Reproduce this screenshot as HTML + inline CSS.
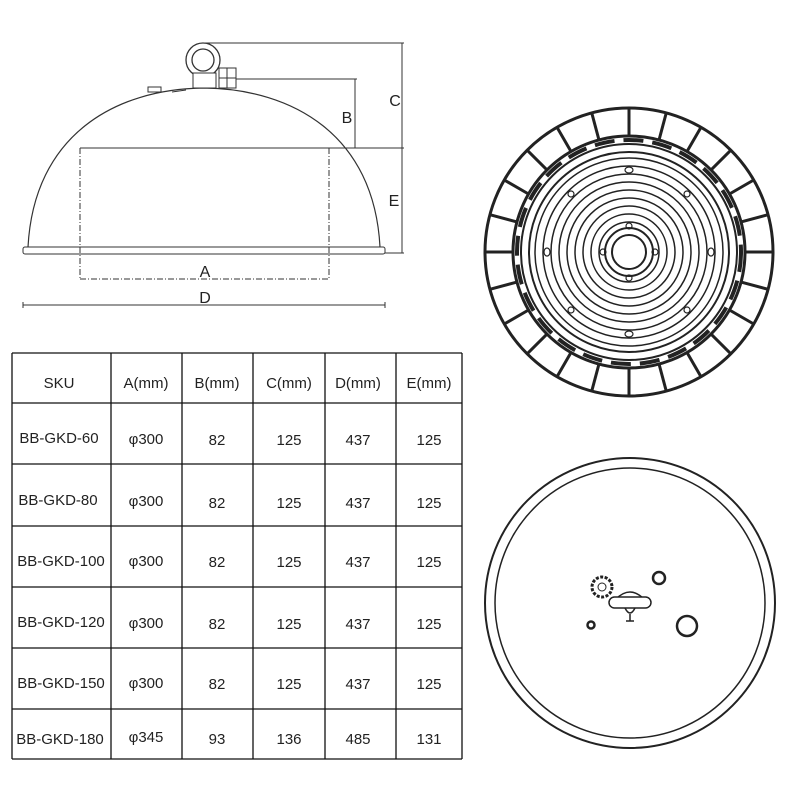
<!DOCTYPE html>
<html><head><meta charset="utf-8"><style>
body{margin:0;background:#fff;width:800px;height:800px;overflow:hidden;position:relative;font-family:"Liberation Sans",sans-serif}
svg{position:absolute;left:0;top:0}
</style></head><body>
<svg width="800" height="800" viewBox="0 0 800 800">
<g fill="none" stroke="#333" stroke-width="1">
 <path d="M28 247 C 34 135, 115 89, 204 88 C 293 89, 374 135, 380 247" stroke-width="1.2"/>
 <rect x="23" y="247" width="362" height="7" rx="2"/>
 <circle cx="203" cy="60" r="17" stroke-width="1.3"/>
 <circle cx="203" cy="60" r="11" stroke-width="1.3"/>
 <rect x="193" y="73" width="23" height="15" fill="#fff"/>
 <rect x="219" y="68" width="17" height="20" fill="#fff"/>
 <line x1="227" y1="68" x2="227" y2="88"/><line x1="219" y1="78" x2="236" y2="78"/>
 <rect x="148" y="87" width="13" height="5"/>
 <line x1="172" y1="92" x2="186" y2="90"/>
 <line x1="203" y1="43" x2="404" y2="43"/>
 <line x1="236" y1="79" x2="357" y2="79"/>
 <line x1="355" y1="79" x2="355" y2="148"/>
 <line x1="402" y1="43" x2="402" y2="253"/>
 <line x1="80" y1="148" x2="404" y2="148"/>
 <line x1="385" y1="253" x2="404" y2="253"/>
 <line x1="80" y1="148" x2="80" y2="280" stroke-dasharray="6 2 1 2"/>
 <line x1="329" y1="148" x2="329" y2="280" stroke-dasharray="6 2 1 2"/>
 <line x1="80" y1="279" x2="329" y2="279" stroke-dasharray="6 2 1 2"/>
 <line x1="23" y1="302" x2="23" y2="308"/>
 <line x1="385" y1="302" x2="385" y2="308"/>
 <line x1="23" y1="305" x2="385" y2="305"/>
</g>
<g font-size="16" fill="#222" font-family="Liberation Sans,sans-serif" text-anchor="middle">
 <text x="395" y="106">C</text><text x="347" y="123">B</text><text x="394" y="206">E</text>
 <text x="205" y="277">A</text><text x="205" y="303">D</text>
</g>
<g fill="none" stroke="#222">
 <circle cx="629" cy="252" r="144" stroke-width="3"/>
 <circle cx="629" cy="252" r="116" stroke-width="3"/>
 <circle cx="629" cy="252" r="108" stroke-width="2"/>
 <circle cx="629" cy="252" r="100" stroke-width="2"/>
 <circle cx="629" cy="252" r="94" stroke-width="1.5"/>
 <circle cx="629" cy="252" r="86" stroke-width="1.5"/>
 <circle cx="629" cy="252" r="78" stroke-width="1.5"/>
 <circle cx="629" cy="252" r="70" stroke-width="1.5"/>
 <circle cx="629" cy="252" r="62" stroke-width="1.5"/>
 <circle cx="629" cy="252" r="54" stroke-width="1.5"/>
 <circle cx="629" cy="252" r="46" stroke-width="1.5"/>
 <circle cx="629" cy="252" r="38" stroke-width="1.5"/>
 <circle cx="629" cy="252" r="30" stroke-width="1.5"/>
 <circle cx="629" cy="252" r="24" stroke-width="2"/>
 <circle cx="629" cy="252" r="17" stroke-width="2"/>
 <g stroke-width="3">
  <line x1="629" y1="108" x2="629" y2="136" transform="rotate(0 629 252)"/>
  <line x1="629" y1="108" x2="629" y2="136" transform="rotate(15 629 252)"/>
  <line x1="629" y1="108" x2="629" y2="136" transform="rotate(30 629 252)"/>
  <line x1="629" y1="108" x2="629" y2="136" transform="rotate(45 629 252)"/>
  <line x1="629" y1="108" x2="629" y2="136" transform="rotate(60 629 252)"/>
  <line x1="629" y1="108" x2="629" y2="136" transform="rotate(75 629 252)"/>
  <line x1="629" y1="108" x2="629" y2="136" transform="rotate(90 629 252)"/>
  <line x1="629" y1="108" x2="629" y2="136" transform="rotate(105 629 252)"/>
  <line x1="629" y1="108" x2="629" y2="136" transform="rotate(120 629 252)"/>
  <line x1="629" y1="108" x2="629" y2="136" transform="rotate(135 629 252)"/>
  <line x1="629" y1="108" x2="629" y2="136" transform="rotate(150 629 252)"/>
  <line x1="629" y1="108" x2="629" y2="136" transform="rotate(165 629 252)"/>
  <line x1="629" y1="108" x2="629" y2="136" transform="rotate(180 629 252)"/>
  <line x1="629" y1="108" x2="629" y2="136" transform="rotate(195 629 252)"/>
  <line x1="629" y1="108" x2="629" y2="136" transform="rotate(210 629 252)"/>
  <line x1="629" y1="108" x2="629" y2="136" transform="rotate(225 629 252)"/>
  <line x1="629" y1="108" x2="629" y2="136" transform="rotate(240 629 252)"/>
  <line x1="629" y1="108" x2="629" y2="136" transform="rotate(255 629 252)"/>
  <line x1="629" y1="108" x2="629" y2="136" transform="rotate(270 629 252)"/>
  <line x1="629" y1="108" x2="629" y2="136" transform="rotate(285 629 252)"/>
  <line x1="629" y1="108" x2="629" y2="136" transform="rotate(300 629 252)"/>
  <line x1="629" y1="108" x2="629" y2="136" transform="rotate(315 629 252)"/>
  <line x1="629" y1="108" x2="629" y2="136" transform="rotate(330 629 252)"/>
  <line x1="629" y1="108" x2="629" y2="136" transform="rotate(345 629 252)"/>
 </g>
 <circle cx="629" cy="252" r="112" stroke-width="4" stroke-dasharray="20 9"/>
 <g stroke-width="1.2">
  <ellipse cx="629" cy="170" rx="4" ry="3"/><ellipse cx="629" cy="334" rx="4" ry="3"/>
  <ellipse cx="547" cy="252" rx="3" ry="4"/><ellipse cx="711" cy="252" rx="3" ry="4"/>
  <circle cx="571" cy="194" r="3"/><circle cx="687" cy="194" r="3"/>
  <circle cx="571" cy="310" r="3"/><circle cx="687" cy="310" r="3"/>
  <circle cx="629" cy="226" r="3"/><circle cx="629" cy="278" r="3"/>
  <circle cx="603" cy="252" r="3"/><circle cx="655" cy="252" r="3"/>
 </g>
</g>
<g fill="none" stroke="#222">
 <circle cx="630" cy="603" r="145" stroke-width="2"/>
 <circle cx="630" cy="603" r="135" stroke-width="1.5"/>
 <circle cx="602" cy="587" r="10" stroke-width="3" stroke-dasharray="3 1.5"/>
 <circle cx="602" cy="587" r="4" stroke-width="1"/>
 <circle cx="659" cy="578" r="6" stroke-width="2.5"/>
 <path d="M616 599 Q630 585 644 599" stroke-width="1.5"/>
 <rect x="609" y="597" width="42" height="11" rx="5.5" stroke-width="1.5" fill="#fff"/>
 <path d="M625 608 Q630 618 635 608 M630 614 L630 621 M626 621 L634 621" stroke-width="1.5"/>
 <circle cx="591" cy="625" r="3.5" stroke-width="2.5"/>
 <circle cx="687" cy="626" r="10" stroke-width="2.5"/>
</g>
<g stroke="#111" stroke-width="1.3">
 <line x1="12" y1="353" x2="462" y2="353"/><line x1="12" y1="403" x2="462" y2="403"/>
 <line x1="12" y1="464" x2="462" y2="464"/><line x1="12" y1="526" x2="462" y2="526"/>
 <line x1="12" y1="587" x2="462" y2="587"/><line x1="12" y1="648" x2="462" y2="648"/>
 <line x1="12" y1="709" x2="462" y2="709"/><line x1="12" y1="759" x2="462" y2="759"/>
 <line x1="12" y1="353" x2="12" y2="759"/><line x1="111" y1="353" x2="111" y2="759"/>
 <line x1="182" y1="353" x2="182" y2="759"/><line x1="253" y1="353" x2="253" y2="759"/>
 <line x1="325" y1="353" x2="325" y2="759"/><line x1="396" y1="353" x2="396" y2="759"/>
 <line x1="462" y1="353" x2="462" y2="759"/>
</g>
<g font-size="15" fill="#222" text-anchor="middle" font-family="Liberation Sans,sans-serif">
 <text x="59" y="388">SKU</text><text x="146" y="388">A(mm)</text><text x="217" y="388">B(mm)</text><text x="289" y="388">C(mm)</text><text x="358" y="388">D(mm)</text><text x="429" y="388">E(mm)</text>
 <text x="59" y="443">BB-GKD-60</text><text x="146" y="444">φ300</text><text x="217" y="445">82</text><text x="289" y="445">125</text><text x="358" y="445">437</text><text x="429" y="445">125</text>
 <text x="58" y="505">BB-GKD-80</text><text x="146" y="506">φ300</text><text x="217" y="508">82</text><text x="289" y="508">125</text><text x="358" y="508">437</text><text x="429" y="508">125</text>
 <text x="61" y="566">BB-GKD-100</text><text x="146" y="566">φ300</text><text x="217" y="567">82</text><text x="289" y="567">125</text><text x="358" y="567">437</text><text x="429" y="567">125</text>
 <text x="61" y="627">BB-GKD-120</text><text x="146" y="628">φ300</text><text x="217" y="629">82</text><text x="289" y="629">125</text><text x="358" y="629">437</text><text x="429" y="629">125</text>
 <text x="61" y="688">BB-GKD-150</text><text x="146" y="688">φ300</text><text x="217" y="689">82</text><text x="289" y="689">125</text><text x="358" y="689">437</text><text x="429" y="689">125</text>
 <text x="60" y="744">BB-GKD-180</text><text x="146" y="742">φ345</text><text x="217" y="744">93</text><text x="289" y="744">136</text><text x="358" y="744">485</text><text x="429" y="744">131</text>
</g>
</svg>
</body></html>
